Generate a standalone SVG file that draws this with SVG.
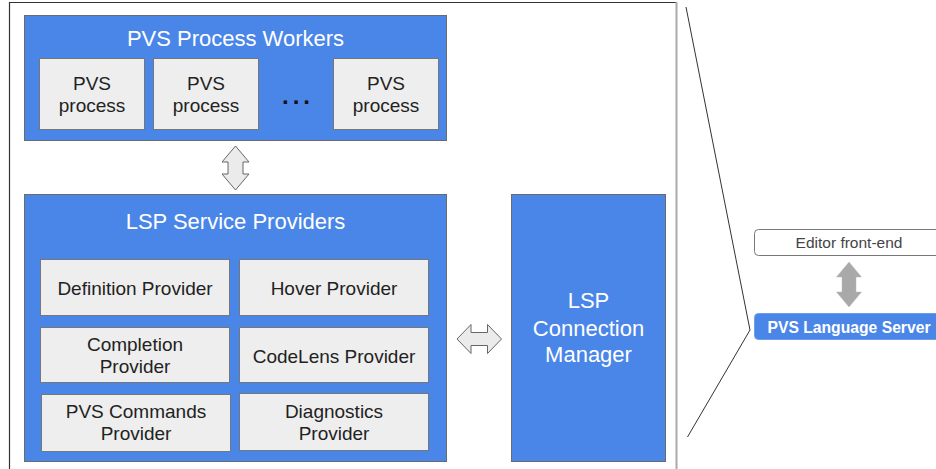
<svg xmlns="http://www.w3.org/2000/svg" width="936" height="469" viewBox="0 0 936 469">
<defs>
<style>
.blue{fill:#4a86e8;stroke:#6b6b6b;stroke-width:1}
.gray{fill:#eeeeee;stroke:#777;stroke-width:1}
.t{font-family:"Liberation Sans",Arial,sans-serif;text-anchor:middle}
.wt{fill:#ffffff;font-size:22px}
.dk{fill:#222222;font-size:19px}
.arr{fill:#ebebeb;stroke:#666;stroke-width:1}
</style>
</defs>
<rect width="936" height="469" fill="#ffffff"/>
<g id="frame">
<path d="M9.5,469 L9.5,2.5 L676,2.5" fill="none" stroke="#333" stroke-width="1.2"/>
<line x1="676.5" y1="2" x2="676.5" y2="469" stroke="#aaa" stroke-width="2"/>
</g>
<g id="workers">
<rect class="blue" x="24.5" y="15.5" width="422" height="125"/>
<text class="t wt" x="235.5" y="46">PVS Process Workers</text>
</g>
<g id="proc1">
<rect class="gray" x="39.5" y="58.5" width="105" height="71"/>
<text class="t dk" x="92" y="90">PVS</text>
<text class="t dk" x="92" y="112">process</text>
</g>
<g id="proc2">
<rect class="gray" x="153.5" y="58.5" width="105" height="71"/>
<text class="t dk" x="206" y="90">PVS</text>
<text class="t dk" x="206" y="112">process</text>
</g>
<g id="dots">
<text class="t" x="298" y="104" font-size="24" font-weight="bold" letter-spacing="4" fill="#111">...</text>
</g>
<g id="proc3">
<rect class="gray" x="333.5" y="58.5" width="105" height="71"/>
<text class="t dk" x="386" y="90">PVS</text>
<text class="t dk" x="386" y="112">process</text>
</g>
<g id="providers">
<rect class="blue" x="24.5" y="194.5" width="422" height="267"/>
<text class="t wt" x="235.5" y="229">LSP Service Providers</text>
</g>
<g id="definition">
<rect class="gray" x="40.5" y="259.5" width="189" height="56"/>
<text class="t dk" x="135" y="295">Definition Provider</text>
</g>
<g id="hover">
<rect class="gray" x="239.5" y="259.5" width="189" height="56"/>
<text class="t dk" x="334" y="295">Hover Provider</text>
</g>
<g id="completion">
<rect class="gray" x="40.5" y="327.5" width="189" height="55"/>
<text class="t dk" x="135" y="351">Completion</text>
<text class="t dk" x="135" y="373">Provider</text>
</g>
<g id="codelens">
<rect class="gray" x="239.5" y="327.5" width="189" height="55"/>
<text class="t dk" x="334" y="363">CodeLens Provider</text>
</g>
<g id="commands">
<rect class="gray" x="41.5" y="394.5" width="189" height="57"/>
<text class="t dk" x="136" y="418">PVS Commands</text>
<text class="t dk" x="136" y="440">Provider</text>
</g>
<g id="diagnostics">
<rect class="gray" x="239.5" y="393.5" width="189" height="57"/>
<text class="t dk" x="334" y="418">Diagnostics</text>
<text class="t dk" x="334" y="440">Provider</text>
</g>
<g id="manager">
<rect class="blue" x="511.5" y="194.5" width="154" height="267"/>
<text class="t wt" x="588.5" y="308">LSP</text>
<text class="t wt" x="588.5" y="336">Connection</text>
<text class="t wt" x="588.5" y="362">Manager</text>
</g>
<g id="editor">
<rect x="754.5" y="229.5" width="200" height="26" rx="4" fill="#ffffff" stroke="#777" stroke-width="1"/>
<text class="t" x="849" y="248" font-size="15.5" fill="#444">Editor front-end</text>
</g>
<g id="server">
<rect x="754.5" y="313.5" width="200" height="26" rx="4" fill="#4a86e8" stroke="#6d9eeb" stroke-width="1"/>
<text class="t" x="849" y="333" font-size="15.7" font-weight="bold" fill="#ffffff">PVS Language Server</text>
</g>
<g id="connectors">
<path class="arr" d="M235.5,146 L249,162 L243,162 L243,174 L249,174 L235.5,190 L222,174 L228,174 L228,162 L222,162 Z"/>
<path class="arr" d="M457,339 L471,324.5 L471,332.5 L487.5,332.5 L487.5,324.5 L501.5,339 L487.5,353.5 L487.5,345.5 L471,345.5 L471,353.5 Z"/>
<path d="M849,262 L861.5,277 L856,277 L856,292 L861.5,292 L849,307 L836.5,292 L842,292 L842,277 L836.5,277 Z" fill="#a9a9a9" stroke="#bbb" stroke-width="0.5"/>
<polyline points="686,7 750,330 687.5,437" fill="none" stroke="#333" stroke-width="1"/>
</g>
</svg>
